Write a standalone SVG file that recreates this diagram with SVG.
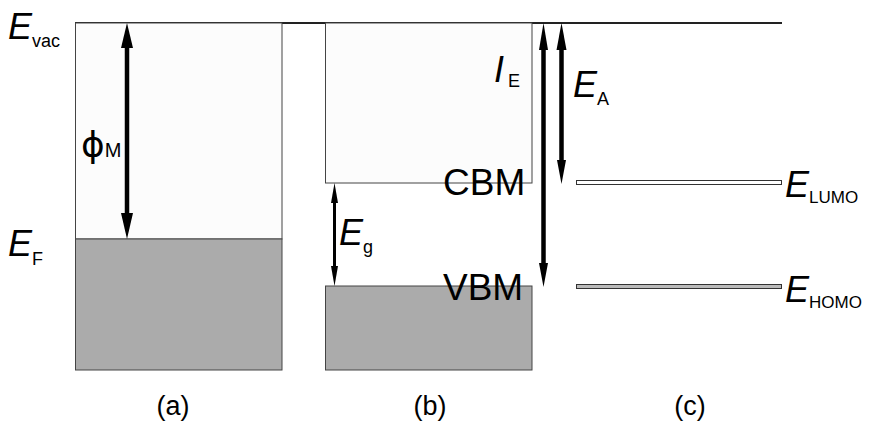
<svg xmlns="http://www.w3.org/2000/svg" width="871" height="424" viewBox="0 0 871 424">
<style>
.t{font-family:"Liberation Sans",Arial,sans-serif;fill:#000}
.big{font-size:36px;font-style:italic}
.sub{font-size:18px}
.lbl{font-size:37px}
.cap{font-size:27px}
.up{fill:#fcfcfc;stroke:#444;stroke-width:1}
.dn{fill:#ababab;stroke:#444;stroke-width:1}
.sh{stroke:#000;fill:none}
.hd{fill:#000}
</style>
<rect width="871" height="424" fill="#fff"/>
<g id="vacuum">
<line x1="75" y1="23" x2="782" y2="23" stroke="#222" stroke-width="2"/>
</g>
<g id="metal">
<rect class="up" x="75.5" y="23" width="206.5" height="216"/>
<rect class="dn" x="75.5" y="239" width="206.5" height="131"/>
</g>
<g id="semiconductor">
<rect class="up" x="325.5" y="23" width="206.5" height="160"/>
<rect class="dn" x="325.5" y="286" width="206.5" height="84"/>
</g>
<g id="lumo">
<rect x="576.5" y="180.5" width="205" height="4" fill="#fff" stroke="#333" stroke-width="1"/>
</g>
<g id="homo">
<rect x="576.5" y="284.5" width="205" height="4" fill="#bbb" stroke="#333" stroke-width="1"/>
</g>
<g id="connectors">
<line class="sh" x1="127" y1="40" x2="127" y2="222" stroke-width="4.5"/>
<polygon class="hd" points="127,23 121,48 133,48"/>
<polygon class="hd" points="127,239 121,213 133,213"/>
<line class="sh" x1="334.5" y1="195" x2="334.5" y2="274" stroke-width="3"/>
<polygon class="hd" points="334.5,183 331,203 338,203"/>
<polygon class="hd" points="334.5,286 331,266 338,266"/>
<line class="sh" x1="543.5" y1="40" x2="543.5" y2="270" stroke-width="4.5"/>
<polygon class="hd" points="543.5,23 539,50 548,50"/>
<polygon class="hd" points="543.5,287 539,263 548,263"/>
<line class="sh" x1="561.5" y1="40" x2="561.5" y2="166" stroke-width="4.5"/>
<polygon class="hd" points="561.5,23 556.5,50 566.5,50"/>
<polygon class="hd" points="561.5,184 557,160 566,160"/>
</g>
<g id="labels">
<text class="t" x="8" y="39"><tspan class="big">E</tspan><tspan class="sub" dy="8">vac</tspan></text>
<text class="t" x="8" y="256"><tspan class="big">E</tspan><tspan class="sub" dy="9">F</tspan></text>
<text class="t" x="81" y="157"><tspan style="font-size:36px;font-family:'DejaVu Sans',sans-serif">ϕ</tspan><tspan style="font-size:20px">M</tspan></text>
<text class="t big" x="494" y="82">I</text>
<text class="t sub" x="508" y="87">E</text>
<text class="t" x="573" y="97"><tspan class="big">E</tspan><tspan class="sub" dy="8">A</tspan></text>
<text class="t" x="339" y="245"><tspan class="big">E</tspan><tspan class="sub" dy="8">g</tspan></text>
<text class="t lbl" x="443" y="195">CBM</text>
<text class="t lbl" x="443" y="300">VBM</text>
<text class="t" x="785" y="197"><tspan class="big">E</tspan><tspan class="sub" style="font-size:17px" dy="6">LUMO</tspan></text>
<text class="t" x="785" y="302"><tspan class="big">E</tspan><tspan class="sub" style="font-size:17px" dy="6">HOMO</tspan></text>
<text class="t cap" x="173" y="415" text-anchor="middle">(a)</text>
<text class="t cap" x="430" y="415" text-anchor="middle">(b)</text>
<text class="t cap" x="690" y="415" text-anchor="middle">(c)</text>
</g>
</svg>
